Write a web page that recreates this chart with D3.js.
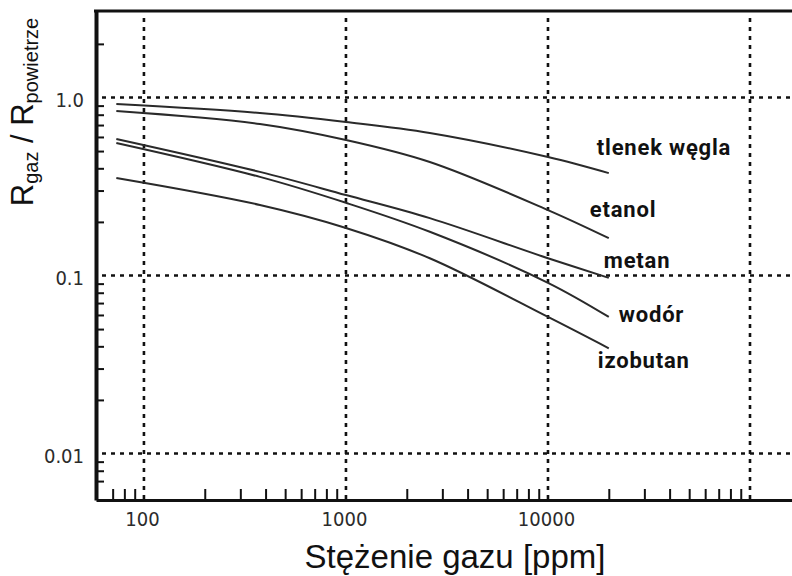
<!DOCTYPE html>
<html>
<head>
<meta charset="utf-8">
<script src="https://cdn.jsdelivr.net/npm/d3@7/dist/d3.min.js"></script>
<style>
  body { margin: 0; background: #fff; }
  svg { display: block; }
  .tick-label text { font-family: "Liberation Sans Narrow", "DejaVu Sans Condensed", "Liberation Sans", sans-serif; font-size: 20px; fill: #2b2b2b; }
  .gas-label { font-family: Roboto, "Liberation Sans", sans-serif; font-weight: 700; font-size: 22px; letter-spacing: 0.8px; fill: #111; }
  .axis-title { font-family: "Liberation Sans", Arial, sans-serif; fill: #111; }
</style>
</head>
<body>
<div id="chart"></div>
<script>
// concentration points (ppm)
var ppm = [73, 375, 1000, 2600, 10000, 20000];

// R_gaz / R_powietrze for each gas
var tlenekWegla = [0.919, 0.818, 0.728, 0.632, 0.463, 0.376];
var etanol      = [0.840, 0.710, 0.577, 0.434, 0.233, 0.162];
var metan       = [0.585, 0.382, 0.283, 0.210, 0.125, 0.097];
var wodor       = [0.555, 0.358, 0.256, 0.176, 0.091, 0.0585];
var izobutan    = [0.353, 0.249, 0.185, 0.125, 0.0585, 0.039];

var gasNames = ["tlenek węgla", "etanol", "metan", "wodór", "izobutan"];
var gasValues = [tlenekWegla, etanol, metan, wodor, izobutan];

// axis ticks
var xGrid = [100, 1000, 10000, 100000];
var xLabels = [100, 1000, 10000];
var xMinor = [70, 80, 90, 200, 300, 400, 500, 600, 700, 800, 900,
  2000, 3000, 4000, 5000, 6000, 7000, 8000, 9000,
  20000, 30000, 40000, 50000, 60000, 70000, 80000, 90000];
var yGrid = [0.01, 0.1, 1];
var yLabels = ["0.01", "0.1", "1.0"];
var yMinor = [0.007, 0.008, 0.009, 0.02, 0.03, 0.04, 0.05, 0.06, 0.07, 0.08, 0.09,
  0.2, 0.3, 0.4, 0.5, 0.6, 0.7, 0.8, 0.9, 2];

// label offsets from the end of each curve (px)
var labelOffsets = [[-12, -18], [-19, -21], [-5, -10], [10, 5], [-11, 20]];

var svgWidth = 792;
var svgHeight = 576;

var svg = d3.select("#chart")
  .append("svg")
  .attr("width", svgWidth)
  .attr("height", svgHeight);

var plotLeft = 96, plotTop = 11, plotBottom = 500, plotRight = 792;

var x = d3.scaleLog()
  .domain([57.9, 161400])
  .range([plotLeft, plotRight]);

var y = d3.scaleLog()
  .domain([0.00548, 3.06])
  .range([plotBottom, plotTop]);

// dotted grid
var grid = svg.append("g")
  .attr("stroke", "#111")
  .attr("stroke-width", 2.6)
  .attr("stroke-dasharray", "4,5");

grid.selectAll(".vgrid")
  .data(xGrid)
  .enter()
  .append("line")
  .attr("x1", d => x(d))
  .attr("x2", d => x(d))
  .attr("y1", plotTop + 7)
  .attr("y2", plotBottom);

grid.selectAll(".hgrid")
  .data(yGrid)
  .enter()
  .append("line")
  .attr("x1", plotLeft + 6)
  .attr("x2", plotRight)
  .attr("y1", d => y(d))
  .attr("y2", d => y(d));

// minor ticks pointing inward
var xAxis = svg.append("g")
  .attr("transform", `translate(0, ${plotBottom})`)
  .call(d3.axisBottom(x).tickValues(xMinor).tickSizeInner(-11).tickSizeOuter(0).tickFormat(""));
xAxis.select(".domain").attr("stroke", "#111").attr("stroke-width", 3.2);
xAxis.selectAll(".tick line").attr("stroke", "#111").attr("stroke-width", 2);

var yAxis = svg.append("g")
  .attr("transform", `translate(${plotLeft}, 0)`)
  .call(d3.axisLeft(y).tickValues(yMinor).tickSizeInner(-8).tickSizeOuter(0).tickFormat(""));
yAxis.select(".domain").attr("stroke", "#111").attr("stroke-width", 4);
yAxis.selectAll(".tick line").attr("stroke", "#111").attr("stroke-width", 2);

// top frame line
svg.append("line")
  .attr("x1", plotLeft - 2)
  .attr("x2", plotRight)
  .attr("y1", plotTop)
  .attr("y2", plotTop)
  .attr("stroke", "#111")
  .attr("stroke-width", 3.2);

// tick labels
var xLab = svg.append("g")
  .attr("class", "tick-label")
  .attr("transform", `translate(-2, ${plotBottom})`)
  .call(d3.axisBottom(x).tickValues(xLabels).tickSize(0).tickPadding(12).tickFormat(d3.format("d")));
xLab.select(".domain").remove();

var yLab = svg.append("g")
  .attr("class", "tick-label")
  .attr("transform", `translate(${plotLeft}, 0)`)
  .call(d3.axisLeft(y).tickValues(yGrid).tickSize(0).tickPadding(12).tickFormat((d, i) => yLabels[i]));
yLab.select(".domain").remove();
yLab.selectAll("text").attr("dy", "0.45em");

// curves
var line = d3.line()
  .x(d => x(d[0]))
  .y(d => y(d[1]))
  .curve(d3.curveCatmullRom.alpha(0.5));

gasValues.forEach(function(vals, i) {
  var pts = ppm.map((p, j) => [p, vals[j]]);
  svg.append("path")
    .datum(pts)
    .attr("fill", "none")
    .attr("stroke", "#2a2a2a")
    .attr("stroke-width", 2)
    .attr("d", line);

  var last = pts[pts.length - 1];
  svg.append("text")
    .attr("class", "gas-label")
    .attr("x", x(last[0]) + labelOffsets[i][0])
    .attr("y", y(last[1]) + labelOffsets[i][1])
    .text(gasNames[i]);
});

// axis titles
svg.append("text")
  .attr("class", "axis-title")
  .attr("x", 455)
  .attr("y", 568)
  .attr("text-anchor", "middle")
  .attr("font-size", 33)
  .text("Stężenie gazu [ppm]");

var yTitle = svg.append("text")
  .attr("class", "axis-title")
  .attr("transform", "translate(33, 112) rotate(-90)")
  .attr("text-anchor", "middle")
  .attr("font-size", 31);
yTitle.append("tspan").text("R");
yTitle.append("tspan").attr("font-size", 20).attr("dy", 5).text("gaz");
yTitle.append("tspan").attr("dy", -5).text(" / R");
yTitle.append("tspan").attr("font-size", 20).attr("dy", 5).text("powietrze");
</script>
</body>
</html>
